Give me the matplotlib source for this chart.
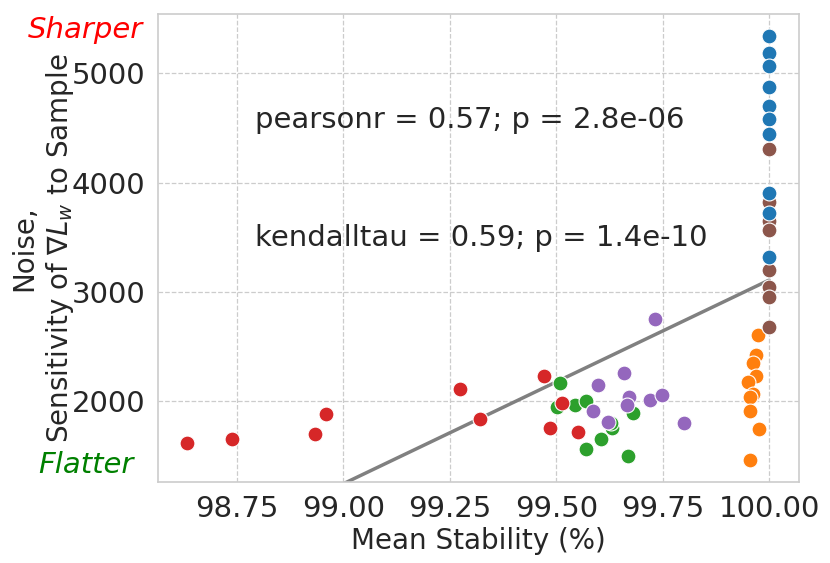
import matplotlib
matplotlib.use('Agg')
import matplotlib.pyplot as plt
import seaborn as sns
import numpy as np

# mean stability (%) and noise per group
blue_x = [100.0] * 10
blue_y = [5342, 5183, 5070, 4875, 4700, 4581, 4448, 3900, 3724, 3321]
orange_x = [99.973, 99.968, 99.961, 99.968, 99.950, 99.961, 99.955, 99.954, 99.975, 99.954]
orange_y = [2604, 2421, 2345, 2229, 2171, 2064, 2039, 1908, 1741, 1457]
green_x = [99.509, 99.501, 99.543, 99.569, 99.680, 99.631, 99.629, 99.604, 99.570, 99.669]
green_y = [2162, 1948, 1961, 2003, 1893, 1750, 1796, 1649, 1560, 1499]
red_x = [98.633, 98.737, 98.932, 98.958, 99.274, 99.320, 99.471, 99.514, 99.486, 99.550]
red_y = [1615, 1655, 1698, 1884, 2113, 1832, 2232, 1979, 1753, 1713]
purple_x = [99.732, 99.658, 99.597, 99.670, 99.666, 99.719, 99.747, 99.585, 99.621, 99.799]
purple_y = [2751, 2254, 2147, 2039, 1963, 2009, 2058, 1911, 1810, 1796]
brown_x = [100.0] * 8
brown_y = [4304, 3824, 3647, 3565, 3199, 3046, 2949, 2680]

pearson_txt = 'pearsonr = 0.57; p = 2.8e-06'
kendall_txt = 'kendalltau = 0.59; p = 1.4e-10'

sns.set_style('whitegrid', {'grid.linestyle': '--'})
plt.rcParams['font.family'] = ['DejaVu Sans']

fig = plt.figure(figsize=(8.3, 5.63), dpi=100)
ax = fig.add_axes([0.1907, 0.1444, 0.772, 0.8307])

pal = sns.color_palette('tab10')
groups = [(orange_x, orange_y, pal[1]), (green_x, green_y, pal[2]),
          (purple_x, purple_y, pal[4]), (red_x, red_y, pal[3]),
          (brown_x, brown_y, pal[5]), (blue_x, blue_y, pal[0])]
for gx, gy, c in groups:
    ax.scatter(gx, gy, s=115, color=c, edgecolor='white', linewidth=0.8, zorder=3)

all_x = np.array(blue_x + orange_x + green_x + red_x + purple_x + brown_x)
all_y = np.array(blue_y + orange_y + green_y + red_y + purple_y + brown_y)
sns.regplot(x=all_x, y=all_y, ax=ax, scatter=False, ci=None,
            color='grey', line_kws={'linewidth': 2.5, 'zorder': 2})

ax.set_xlim(98.565, 100.07)
ax.set_ylim(1261, 5543)
ax.set_xticks([98.75, 99.0, 99.25, 99.5, 99.75, 100.0])
ax.set_xticklabels(['98.75', '99.00', '99.25', '99.50', '99.75', '100.00'])
ax.set_yticks([2000, 3000, 4000, 5000])
ax.tick_params(labelsize=21, colors='#262626', pad=6)
ax.grid(True, linestyle='--', color='#cccccc', linewidth=0.9)
for sp in ax.spines.values():
    sp.set_color('#cccccc')
    sp.set_linewidth(1.2)

ax.set_xlabel('Mean Stability (%)', fontsize=20, color='#262626', labelpad=3)
ax.set_ylabel('Noise,\nSensitivity of $\\nabla L_w$ to Sample', fontsize=20,
              color='#262626', labelpad=-3)

ax.text(0.151, 0.773, pearson_txt, transform=ax.transAxes, fontsize=21,
        color='#262626', va='center', ha='left')
ax.text(0.151, 0.521, kendall_txt, transform=ax.transAxes, fontsize=21,
        color='#262626', va='center', ha='left')

fig.text(143 / 830, 1 - 30 / 563, 'Sharper', color='red', style='italic',
         fontsize=21, ha='right', va='center')
fig.text(38 / 830, 1 - 465 / 563, 'Flatter', color='green', style='italic',
         fontsize=21, ha='left', va='center')

fig.savefig('out.png', dpi=100)
